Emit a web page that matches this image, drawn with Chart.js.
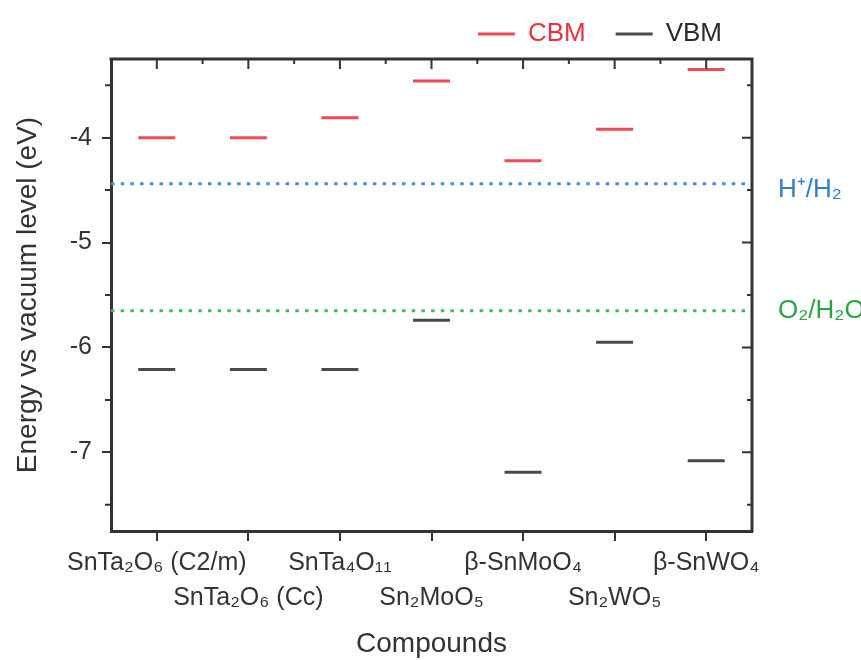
<!DOCTYPE html>
<html>
<head>
<meta charset="utf-8">
<script src="https://cdn.jsdelivr.net/npm/chart.js@4"></script>
<style>
html,body{margin:0;padding:0;background:#ffffff;}
#wrap{width:861px;height:660px;}
</style>
</head>
<body>
<div id="wrap"><canvas id="c" width="861" height="660"></canvas></div>
<script>
// ---- data ----
const categories = ['SnTa₂O₆ (C2/m)', 'SnTa₂O₆ (Cc)', 'SnTa₄O₁₁', 'Sn₂MoO₅', 'β-SnMoO₄', 'Sn₂WO₅', 'β-SnWO₄'];
const cbm = [-4.00, -4.00, -3.81, -3.46, -4.22, -3.92, -3.35];
const vbm = [-6.21, -6.21, -6.21, -5.74, -7.19, -5.95, -7.08];
const seriesNames = ['CBM', 'VBM'];
const refLabels = ['H⁺/H₂', 'O₂/H₂O'];
const refValues = [-4.44, -5.65];
const yTicks = [-7, -6, -5, -4];
const yMinorTicks = [-7.5, -6.5, -5.5, -4.5, -3.5];

// ---- styles ----
const FONT = "'Liberation Sans', Arial, Helvetica, sans-serif";
const AXIS = '#333333';
const RED = '#ef4a55';
const DARK = '#4a4a4a';
const legendTextColors = ['#e8323f', '#2a2a2a'];
const refLineColors = ['#4690d6', '#42bb62'];
const refTextColors = ['#2f7fcf', '#27a447'];

const framePlugin = {
  id: 'frame',
  afterInit(chart) {
    const lg = chart.legend;
    if (lg) {
      const f = lg.fit;
      lg.fit = function () { f.call(this); this.height = 68; };
    }
  },
  afterDraw(chart) {
    const ctx = chart.ctx;
    const a = chart.chartArea;
    const xs = chart.scales.x;
    const ys = chart.scales.y;
    ctx.save();
    ctx.strokeStyle = AXIS;
    ctx.lineWidth = 3;
    ctx.beginPath();
    ctx.moveTo(a.left - 1.5, a.top);
    ctx.lineTo(a.right, a.top);
    ctx.lineTo(a.right, a.bottom + 1.5);
    ctx.stroke();
    ctx.lineWidth = 2;
    ctx.beginPath();
    // top ticks (inward)
    for (let i = 0; i < categories.length; i++) {
      const px = xs.getPixelForValue(i);
      ctx.moveTo(px, a.top); ctx.lineTo(px, a.top + 10);
      if (i < categories.length - 1) {
        const mx = (px + xs.getPixelForValue(i + 1)) / 2;
        ctx.moveTo(mx, a.top); ctx.lineTo(mx, a.top + 5);
      }
    }
    // right ticks (inward)
    yTicks.forEach(v => { const py = ys.getPixelForValue(v); ctx.moveTo(a.right, py); ctx.lineTo(a.right - 10, py); });
    yMinorTicks.forEach(v => { const py = ys.getPixelForValue(v); ctx.moveTo(a.right, py); ctx.lineTo(a.right - 5, py); });
    // left minor ticks (outward)
    yMinorTicks.forEach(v => { const py = ys.getPixelForValue(v); ctx.moveTo(a.left, py); ctx.lineTo(a.left - 6, py); });
    ctx.stroke();
    // reference labels
    const offs = [6, 0];
    ctx.font = '26px ' + FONT;
    ctx.textAlign = 'left';
    ctx.textBaseline = 'middle';
    refLabels.forEach((t, i) => {
      ctx.fillStyle = refTextColors[i];
      ctx.fillText(t, a.right + 26, ys.getPixelForValue(refValues[i]) + offs[i]);
    });
    ctx.restore();
  }
};

const datasets = [
  { label: seriesNames[0], data: cbm, borderColor: RED, backgroundColor: RED },
  { label: seriesNames[1], data: vbm, borderColor: DARK, backgroundColor: DARK }
].map(d => Object.assign(d, {
  xAxisID: 'x', yAxisID: 'y', showLine: false, pointStyle: 'line',
  pointRadius: 18.5, pointHoverRadius: 18.5, pointBorderWidth: 3, pointHoverBorderWidth: 3
}));
refValues.forEach((v, i) => {
  datasets.push({
    label: refLabels[i], xAxisID: 'xr', yAxisID: 'y',
    data: [{ x: 0, y: v }, { x: 1, y: v }],
    borderColor: refLineColors[i], borderWidth: 3, borderDash: [3.5, 6.2],
    pointRadius: 0, fill: false
  });
});

new Chart(document.getElementById('c'), {
  type: 'line',
  data: { labels: categories, datasets },
  options: {
    responsive: false,
    devicePixelRatio: 1,
    animation: false,
    layout: { padding: { left: 7, right: 109, top: -9, bottom: 0 } },
    plugins: {
      tooltip: { enabled: false },
      legend: {
        position: 'top', align: 'end', fullSize: false,
        labels: {
          boxWidth: 37, boxHeight: 3, padding: 30,
          font: { family: FONT, size: 26 },
          generateLabels(chart) {
            return chart.data.datasets.slice(0, 2).map((ds, i) => ({
              text: ds.label, fillStyle: ds.borderColor, strokeStyle: ds.borderColor,
              lineWidth: 0, fontColor: legendTextColors[i], datasetIndex: i, hidden: false
            }));
          }
        }
      }
    },
    scales: {
      x: {
        type: 'category', position: 'bottom', offset: true,
        grid: { display: true, drawOnChartArea: false, drawTicks: true, tickLength: 10, lineWidth: 2, tickWidth: 2, tickColor: AXIS, offset: false },
        border: { display: true, color: AXIS, width: 3 },
        ticks: {
          font: { family: FONT, size: 25, lineHeight: 1.4 }, color: '#333', padding: 4.5,
          maxRotation: 0, autoSkip: false,
          callback: (v, i) => (i % 2 ? ['', categories[i]] : categories[i])
        },
        title: { display: true, text: 'Compounds', color: '#333', font: { family: FONT, size: 28, lineHeight: 1.1 }, padding: { top: 0, bottom: 0 } },
        afterFit: s => { s.height = 129; }
      },
      xr: { type: 'linear', display: false, min: 0, max: 1 },
      y: {
        type: 'linear', position: 'left', min: -7.75, max: -3.25,
        afterBuildTicks: s => { s.ticks = yTicks.map(v => ({ value: v })); },
        grid: { display: true, drawOnChartArea: false, drawTicks: true, tickLength: 9, lineWidth: 2, tickWidth: 2, tickColor: AXIS },
        border: { display: true, color: AXIS, width: 3 },
        ticks: { font: { family: FONT, size: 25 }, color: '#333', padding: 10, callback: v => String(v) },
        title: { display: true, text: 'Energy vs vacuum level (eV)', color: '#333', font: { family: FONT, size: 28 }, padding: { top: 4, bottom: 0 } },
        afterFit: s => { s.width = 104; }
      }
    }
  },
  plugins: [framePlugin]
});
</script>
</body>
</html>
